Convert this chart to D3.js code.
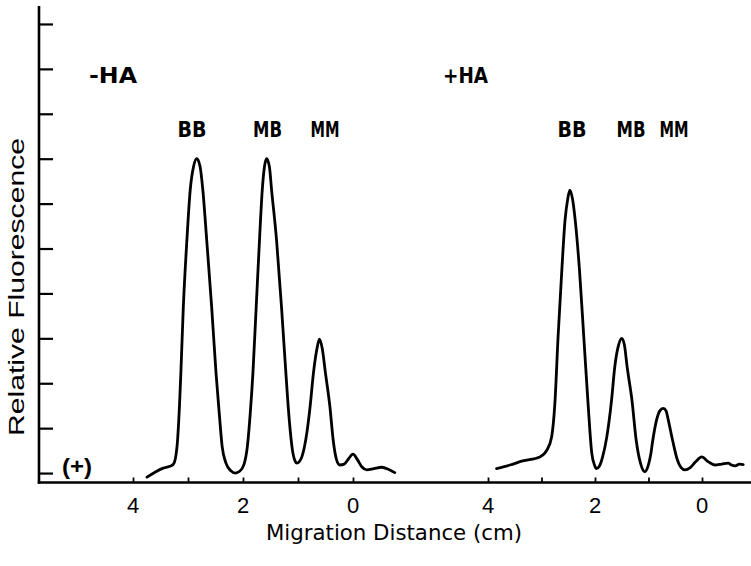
<!DOCTYPE html>
<html>
<head>
<meta charset="utf-8">
<script src="https://cdn.jsdelivr.net/npm/d3@7"></script>
<style>
html,body{margin:0;padding:0;background:#fff;}
svg{display:block;}
</style>
</head>
<body>
<svg id="chart" width="751" height="566"></svg>
<script>
// ---- data ----
const yTicks = [0,1,2,3,4,5,6,7,8,9,10];
const xTicks = [4,3,2,1,0];
const xTickLabels = ["4","","2","","0"];
const panelTitles = ["-HA","+HA"];
const bandLabels = ["BB","MB","MM"];

const minusHA_dist = [3.745,3.60,3.45,3.33,3.27,3.23,3.19,3.155,3.13,3.085,3.02,2.96,2.90,2.84,2.78,2.73,2.66,2.57,2.49,2.43,2.38,2.31,2.22,2.14,2.06,1.98,1.92,1.87,1.82,1.76,1.70,1.65,1.61,1.57,1.52,1.48,1.39,1.30,1.22,1.16,1.10,1.05,1.02,0.98,0.93,0.84,0.78,0.72,0.66,0.61,0.56,0.50,0.42,0.36,0.30,0.24,0.16,0.08,0.00,-0.08,-0.16,-0.25,-0.38,-0.52,-0.65,-0.76];
const minusHA_fluor = [-0.09,0.02,0.11,0.15,0.19,0.32,0.73,1.50,2.22,3.70,5.19,6.30,6.82,7.00,6.82,6.30,5.19,3.70,2.22,1.30,0.60,0.22,0.05,0.00,0.04,0.20,0.60,1.30,2.22,3.70,5.19,6.30,6.82,7.00,6.82,6.30,5.19,3.70,2.22,1.20,0.50,0.26,0.22,0.25,0.36,0.89,1.48,2.22,2.74,2.98,2.78,2.22,1.48,0.73,0.30,0.18,0.20,0.32,0.42,0.30,0.14,0.07,0.10,0.13,0.08,0.01];

const plusHA_dist = [3.84,3.59,3.35,3.03,2.90,2.81,2.75,2.69,2.62,2.56,2.51,2.47,2.42,2.37,2.29,2.21,2.13,2.06,2.01,1.97,1.92,1.86,1.78,1.69,1.63,1.56,1.50,1.45,1.40,1.31,1.23,1.15,1.07,1.01,0.96,0.92,0.85,0.78,0.72,0.67,0.63,0.55,0.46,0.39,0.32,0.22,0.12,0.006,-0.12,-0.24,-0.37,-0.49,-0.55,-0.62,-0.70,-0.77];
const plusHA_fluor = [0.10,0.18,0.27,0.36,0.51,0.81,1.55,3.04,4.52,5.63,6.10,6.30,6.10,5.63,4.52,3.04,1.55,0.44,0.18,0.10,0.15,0.35,0.80,1.63,2.37,2.85,3.00,2.85,2.37,1.63,0.73,0.22,0.03,0.15,0.40,0.73,1.18,1.40,1.44,1.38,1.18,0.73,0.29,0.12,0.07,0.12,0.25,0.36,0.25,0.18,0.20,0.22,0.18,0.16,0.20,0.19];

// ---- layout ----
const svg = d3.select("#chart");
const FONT = "'Liberation Sans', Arial, Helvetica, sans-serif";
const NARROW = "'Liberation Sans Narrow','DejaVu Sans Condensed','Liberation Sans',sans-serif";

const y = d3.scaleLinear().domain([-0.21, 10.4]).range([482.5, 6]);
const xs = [
  d3.scaleLinear().domain([4,0]).range([133,353]),
  d3.scaleLinear().domain([4,0]).range([488,702])
];
const axisX0 = 39, axisX1 = 751, axisY = y(-0.21);

// y axis line
svg.append("line").attr("x1",axisX0).attr("x2",axisX0).attr("y1",y(10.4)).attr("y2",axisY+1.2)
  .attr("stroke","#000").attr("stroke-width",2.6);
// y ticks (pointing right)
const yAxis = d3.axisRight(y).tickValues(yTicks).tickSize(14).tickFormat("");
const gy = svg.append("g").attr("transform",`translate(${axisX0},0)`).call(yAxis);
gy.select(".domain").remove();
gy.selectAll(".tick line").attr("stroke","#000").attr("stroke-width",2.2);

// x axis line
svg.append("line").attr("x1",axisX0-1.2).attr("x2",axisX1).attr("y1",axisY).attr("y2",axisY)
  .attr("stroke","#000").attr("stroke-width",2.6);

xs.forEach((x,i)=>{
  const ax = d3.axisTop(x).tickValues(xTicks).tickSize(5).tickFormat("");
  const g = svg.append("g").attr("transform",`translate(0,${axisY})`).call(ax);
  g.select(".domain").remove();
  g.selectAll(".tick line").attr("stroke","#000").attr("stroke-width",1.8);
  // tick labels
  svg.append("g").selectAll("text").data(xTicks.filter((d,j)=>xTickLabels[j]!==""))
    .enter().append("text")
    .attr("x",d=>x(d)).attr("y",513)
    .attr("text-anchor","middle")
    .attr("font-family",FONT).attr("font-size",22)
    .text(d=>xTickLabels[xTicks.indexOf(d)]);
});

// curves
const line = x => d3.line().x(d=>x(d[0])).y(d=>y(d[1])).curve(d3.curveMonotoneX);
const series = [
  d3.zip(minusHA_dist, minusHA_fluor).reverse(),
  d3.zip(plusHA_dist, plusHA_fluor).reverse()
];
series.forEach((s,i)=>{
  svg.append("path").datum(s).attr("d",line(xs[i])(s))
    .attr("fill","none").attr("stroke","#000").attr("stroke-width",2.8)
    .attr("stroke-linejoin","round").attr("stroke-linecap","round");
});

// panel titles
const titlePos = [{x:89, w:48},{x:443, w:45}];
panelTitles.forEach((t,i)=>{
  svg.append("text").attr("x",titlePos[i].x).attr("y",83)
    .attr("font-family",NARROW).attr("font-size",22).attr("font-weight","bold")
    .attr("textLength",titlePos[i].w).attr("lengthAdjust","spacingAndGlyphs")
    .text(t);
});

// band labels
const bandPos = [[192,267.5,325],[572,631,674]];
bandPos.forEach((row,i)=>{
  row.forEach((cx,j)=>{
    svg.append("text").attr("x",cx-14.5).attr("y",136.5)
      .attr("font-family",NARROW).attr("font-size",21.5).attr("font-weight","bold")
      .attr("textLength",29).attr("lengthAdjust","spacingAndGlyphs")
      .text(bandLabels[j]);
  });
});

// (+) marker
svg.append("text").attr("x",62).attr("y",474)
  .attr("font-family",FONT).attr("font-size",22).attr("font-weight","bold")
  .attr("textLength",30).attr("lengthAdjust","spacingAndGlyphs")
  .text("(+)");

// axis titles
svg.append("text").attr("x",266).attr("y",540)
  .attr("font-family",NARROW).attr("font-size",22)
  .attr("textLength",256).attr("lengthAdjust","spacingAndGlyphs")
  .text("Migration  Distance (cm)");

svg.append("text").attr("transform","translate(24,436) rotate(-90)")
  .attr("x",0).attr("y",0)
  .attr("font-family",FONT).attr("font-size",22)
  .attr("textLength",298).attr("lengthAdjust","spacingAndGlyphs")
  .text("Relative  Fluorescence");
</script>
</body>
</html>
